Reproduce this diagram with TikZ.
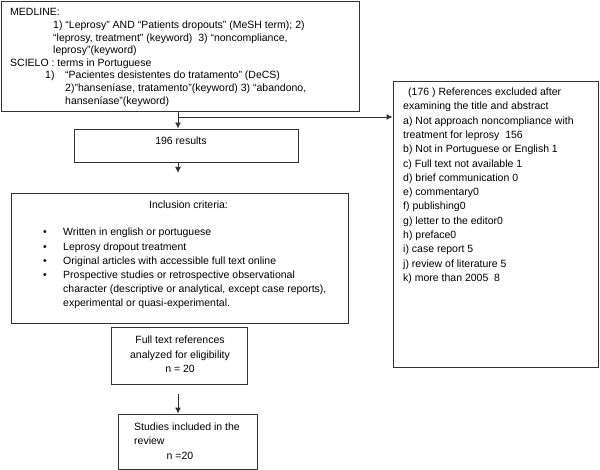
\documentclass[tikz,border=0pt]{standalone}
\usepackage{fontspec}
\setmainfont{Liberation Sans}
\usetikzlibrary{arrows.meta}

\tikzset{
  box/.style={draw=black!80,line width=0.9pt,inner sep=0pt},
  line/.style={anchor=base west,inner sep=0pt,font=\fontsize{10.5}{12.6}\selectfont},
  arr/.style={draw=black!80,line width=0.9pt,-{Latex[length=6pt,width=6pt]}}
}

\begin{document}
\begin{tikzpicture}[x=1pt,y=-1pt]
\useasboundingbox (0,0) rectangle (600,470);

%boxes
\node[box,minimum width=358pt,minimum height=110pt] (search) at (180,56) {};
\node[box,minimum width=224pt,minimum height=33pt] (results) at (186,145.5) {};
\node[box,minimum width=337pt,minimum height=130pt] (incl) at (179.5,258) {};
\node[box,minimum width=136pt,minimum height=57pt] (full) at (179,355.5) {};
\node[box,minimum width=139pt,minimum height=55pt] (studies) at (187.5,441.5) {};
\node[box,minimum width=205pt,minimum height=286pt] (excl) at (495.5,224) {};

%search terms
\node[line] (ml1) at (10,16) {MEDLINE:};
\node[line] (ml2) at (53,28.6) {1) “Leprosy” AND “Patients dropouts” (MeSH term); 2)};
\node[line] (ml3) at (53,41.2) {“leprosy, treatment” (keyword)~ 3) “noncompliance,};
\node[line] (ml4) at (53,53.8) {leprosy”(keyword)};
\node[line] (sc1) at (10,66.4) {SCIELO : terms in Portuguese};
\node[line] (sc2) at (45,79) {1)};
\node[line] (sc3) at (65,79) {“Pacientes desistentes do tratamento” (DeCS)};
\node[line] (sc4) at (65,91.6) {2)”hanseníase, tratamento”(keyword) 3) “abandono,};
\node[line] (sc5) at (65,104.2) {hanseníase”(keyword)};

\node[line,anchor=base] (res) at (181,145) {196 results};

%excluded
\node[line] (ex0) at (408,95.7) {(176 ) References excluded after};
\foreach \t [count=\i] in {examining the title and abstract,
    a) Not approach noncompliance with,treatment for leprosy~ 156,
    b) Not in Portuguese or English 1,c) Full text not available 1,
    d) brief communication 0,e) commentary0,f) publishing0,
    g) letter to the editor0,h) preface0,i) case report 5,
    j) review of literature 5,k) more than 2005~ 8}
  \node[line] (ex\i) at (403,95.7+14.28*\i) {\t};

%inclusion criteria
\node[line,anchor=base] (inctitle) at (188.5,209) {Inclusion criteria:};
\foreach \y [count=\i] in {236,250.2,264.4,278.6}
  \node[line,anchor=base] (bul\i) at (45,\y) {•};
\node[line] (in1) at (63,236) {Written in english or portuguese};
\node[line] (in2) at (63,250.2) {Leprosy dropout treatment};
\node[line] (in3) at (63,264.4) {Original articles with accessible full text online};
\node[line] (in4) at (63,278.6) {Prospective studies or retrospective observational};
\node[line] (in5) at (63,292.8) {character (descriptive or analytical, except case reports),};
\node[line] (in6) at (63,307) {experimental or quasi-experimental.};

\node[line,anchor=base] (fu1) at (180,344) {Full text references};
\node[line,anchor=base] (fu2) at (180,358.5) {analyzed for eligibility};
\node[line,anchor=base] (fu3) at (180,373) {n = 20};

\node[line] (st1) at (134,430) {Studies included in the};
\node[line] (st2) at (134,444.5) {review};
\node[line,anchor=base] (st3) at (180,459) {n =20};

%arrows
\coordinate (br) at (178,117);
\coordinate (gap1) at (178,173);
\coordinate (gap2) at (178,394);
\draw[arr] (search.south -| br) -- (results.north -| br);
\draw[arr] (br) -- (br -| excl.west);
\draw[arr] (results.south -| br) -- (gap1);
\draw[arr] (gap2) -- (studies.north -| gap2);
\end{tikzpicture}
\end{document}
